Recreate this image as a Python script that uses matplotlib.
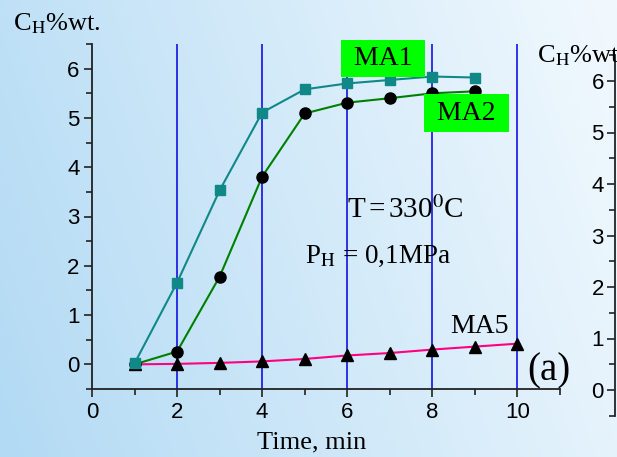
import numpy as np
import matplotlib
matplotlib.use("Agg")
import matplotlib.pyplot as plt
from matplotlib.ticker import MultipleLocator

# ---- data ----
time = [1, 2, 3, 4, 5, 6, 7, 8, 9]
ma1 = [0.02, 1.66, 3.53, 5.11, 5.58, 5.70, 5.77, 5.84, 5.82]
ma2 = [0.00, 0.26, 1.78, 3.81, 5.09, 5.31, 5.40, 5.50, 5.54]
time5 = [1, 2, 3, 4, 5, 6, 7, 8, 9, 10]
ma5 = [0.00, 0.01, 0.03, 0.06, 0.11, 0.18, 0.23, 0.30, 0.36, 0.42]
vlines_x = [2, 4, 6, 8, 10]
x_ticks = [0, 2, 4, 6, 8, 10]
y_ticks = [0, 1, 2, 3, 4, 5, 6]

plt.rcParams['font.family'] = ['Liberation Sans', 'DejaVu Sans']
plt.rcParams['mathtext.fontset'] = 'stix'
serif = 'Liberation Serif'

W, H = 617, 457
fig = plt.figure(figsize=(W / 100, H / 100), dpi=100)

# background gradient
bg = fig.add_axes([0, 0, 1, 1], zorder=-10)
gx = np.linspace(0, 1, 300)
gy = np.linspace(0, 1, 220)
X, Y = np.meshgrid(gx, gy)
t = np.clip(X * 0.8 + (1 - Y) * 0.2, 0, 1)
c0 = np.array([0xb2, 0xda, 0xf4]) / 255
c1 = np.array([0xf2, 0xf9, 0xfe]) / 255
img = c0[None, None, :] * (1 - t[..., None]) + c1[None, None, :] * t[..., None]
bg.imshow(img, aspect='auto', extent=[0, 1, 0, 1], origin='upper')
bg.set_axis_off()

ax = fig.add_axes([92 / W, 1 - 389 / H, (560 - 92) / W, (389 - 44) / H])
ax.patch.set_alpha(0)
ax.set_xlim(0, 11)
ax.set_ylim(-0.5, 6.5)
for s in ['top', 'right']:
    ax.spines[s].set_visible(False)
for s in ['left', 'bottom']:
    ax.spines[s].set_color('#222222')
    ax.spines[s].set_linewidth(1.3)
ax.set_xticks(x_ticks)
ax.set_yticks(y_ticks)
ax.xaxis.set_minor_locator(MultipleLocator(1))
ax.yaxis.set_minor_locator(MultipleLocator(0.5))
ax.tick_params(which='major', direction='out', length=6, width=1.2, labelsize=16, color='#222222', pad=3)
ax.tick_params(which='minor', direction='out', length=4, width=1.2, color='#222222')

for xv in vlines_x:
    ax.axvline(xv, color='#0000e0', lw=1.1, zorder=1)

ax.plot(time5, ma5, color='#ff0080', lw=1.5, marker='^', ms=8, mfc='black', mec='black', zorder=3)
ax.plot(time, ma2, color='#008000', lw=1.5, marker='o', ms=8, mfc='black', mec='black', zorder=4)
ax.plot(time, ma1, color='#108888', lw=1.5, marker='s', ms=6.5, mfc='#108888', mec='#108888', zorder=5)

ax.set_xlabel('Time, min', family=serif, fontsize=19)
ax.xaxis.set_label_coords((312 - 92) / (560 - 92), -0.122)

bbox = dict(boxstyle='square,pad=0.22', fc='#00ff00', ec='none')
ax.text(6.84, 6.21, ' MA1 ', family=serif, fontsize=20, ha='center', va='center', bbox=bbox, zorder=6)
ax.text(8.80, 5.10, ' MA2 ', family=serif, fontsize=20, ha='center', va='center', bbox=bbox, zorder=6)
ax.text(9.1, 0.63, 'MA5', family=serif, fontsize=20, ha='center', va='baseline', zorder=6)
ax.text(10.73, -0.32, '(a)', family=serif, fontsize=28, ha='center', va='baseline', zorder=6)
ax.text(6.0, 2.96, r'T$\,$=$\,$330$^{\rm 0}$C', family=serif, fontsize=21, ha='left', va='baseline', zorder=6)
ax.text(5.0, 2.05, r'P$_{\rm H}$ = 0,1MPa', family=serif, fontsize=19.5, ha='left', va='baseline', zorder=6)

fig.text(13 / W, 1 - 30 / H, r'C$_{\rm H}$%wt.', family=serif, fontsize=19, ha='left', va='baseline')
fig.text(537 / W, 1 - 62 / H, r'C$_{\rm H}$%wt.', family=serif, fontsize=19, ha='left', va='baseline')

# partial second panel on the right edge
ax2 = fig.add_axes([615 / W, 1 - 415.75 / H, 0.5, (415.75 - 55.25) / H])
ax2.patch.set_alpha(0)
ax2.set_ylim(-0.5, 6.5)
ax2.set_xlim(0, 11)
for s in ['top', 'right', 'bottom']:
    ax2.spines[s].set_visible(False)
ax2.spines['left'].set_color('#222222')
ax2.spines['left'].set_linewidth(1.3)
ax2.set_xticks([])
ax2.set_yticks(y_ticks)
ax2.yaxis.set_minor_locator(MultipleLocator(0.5))
ax2.tick_params(which='major', direction='out', length=6, width=1.2, labelsize=16, color='#222222', pad=2)
ax2.tick_params(which='minor', direction='out', length=4, width=1.2, color='#222222')

fig.savefig('out.png', dpi=100)
